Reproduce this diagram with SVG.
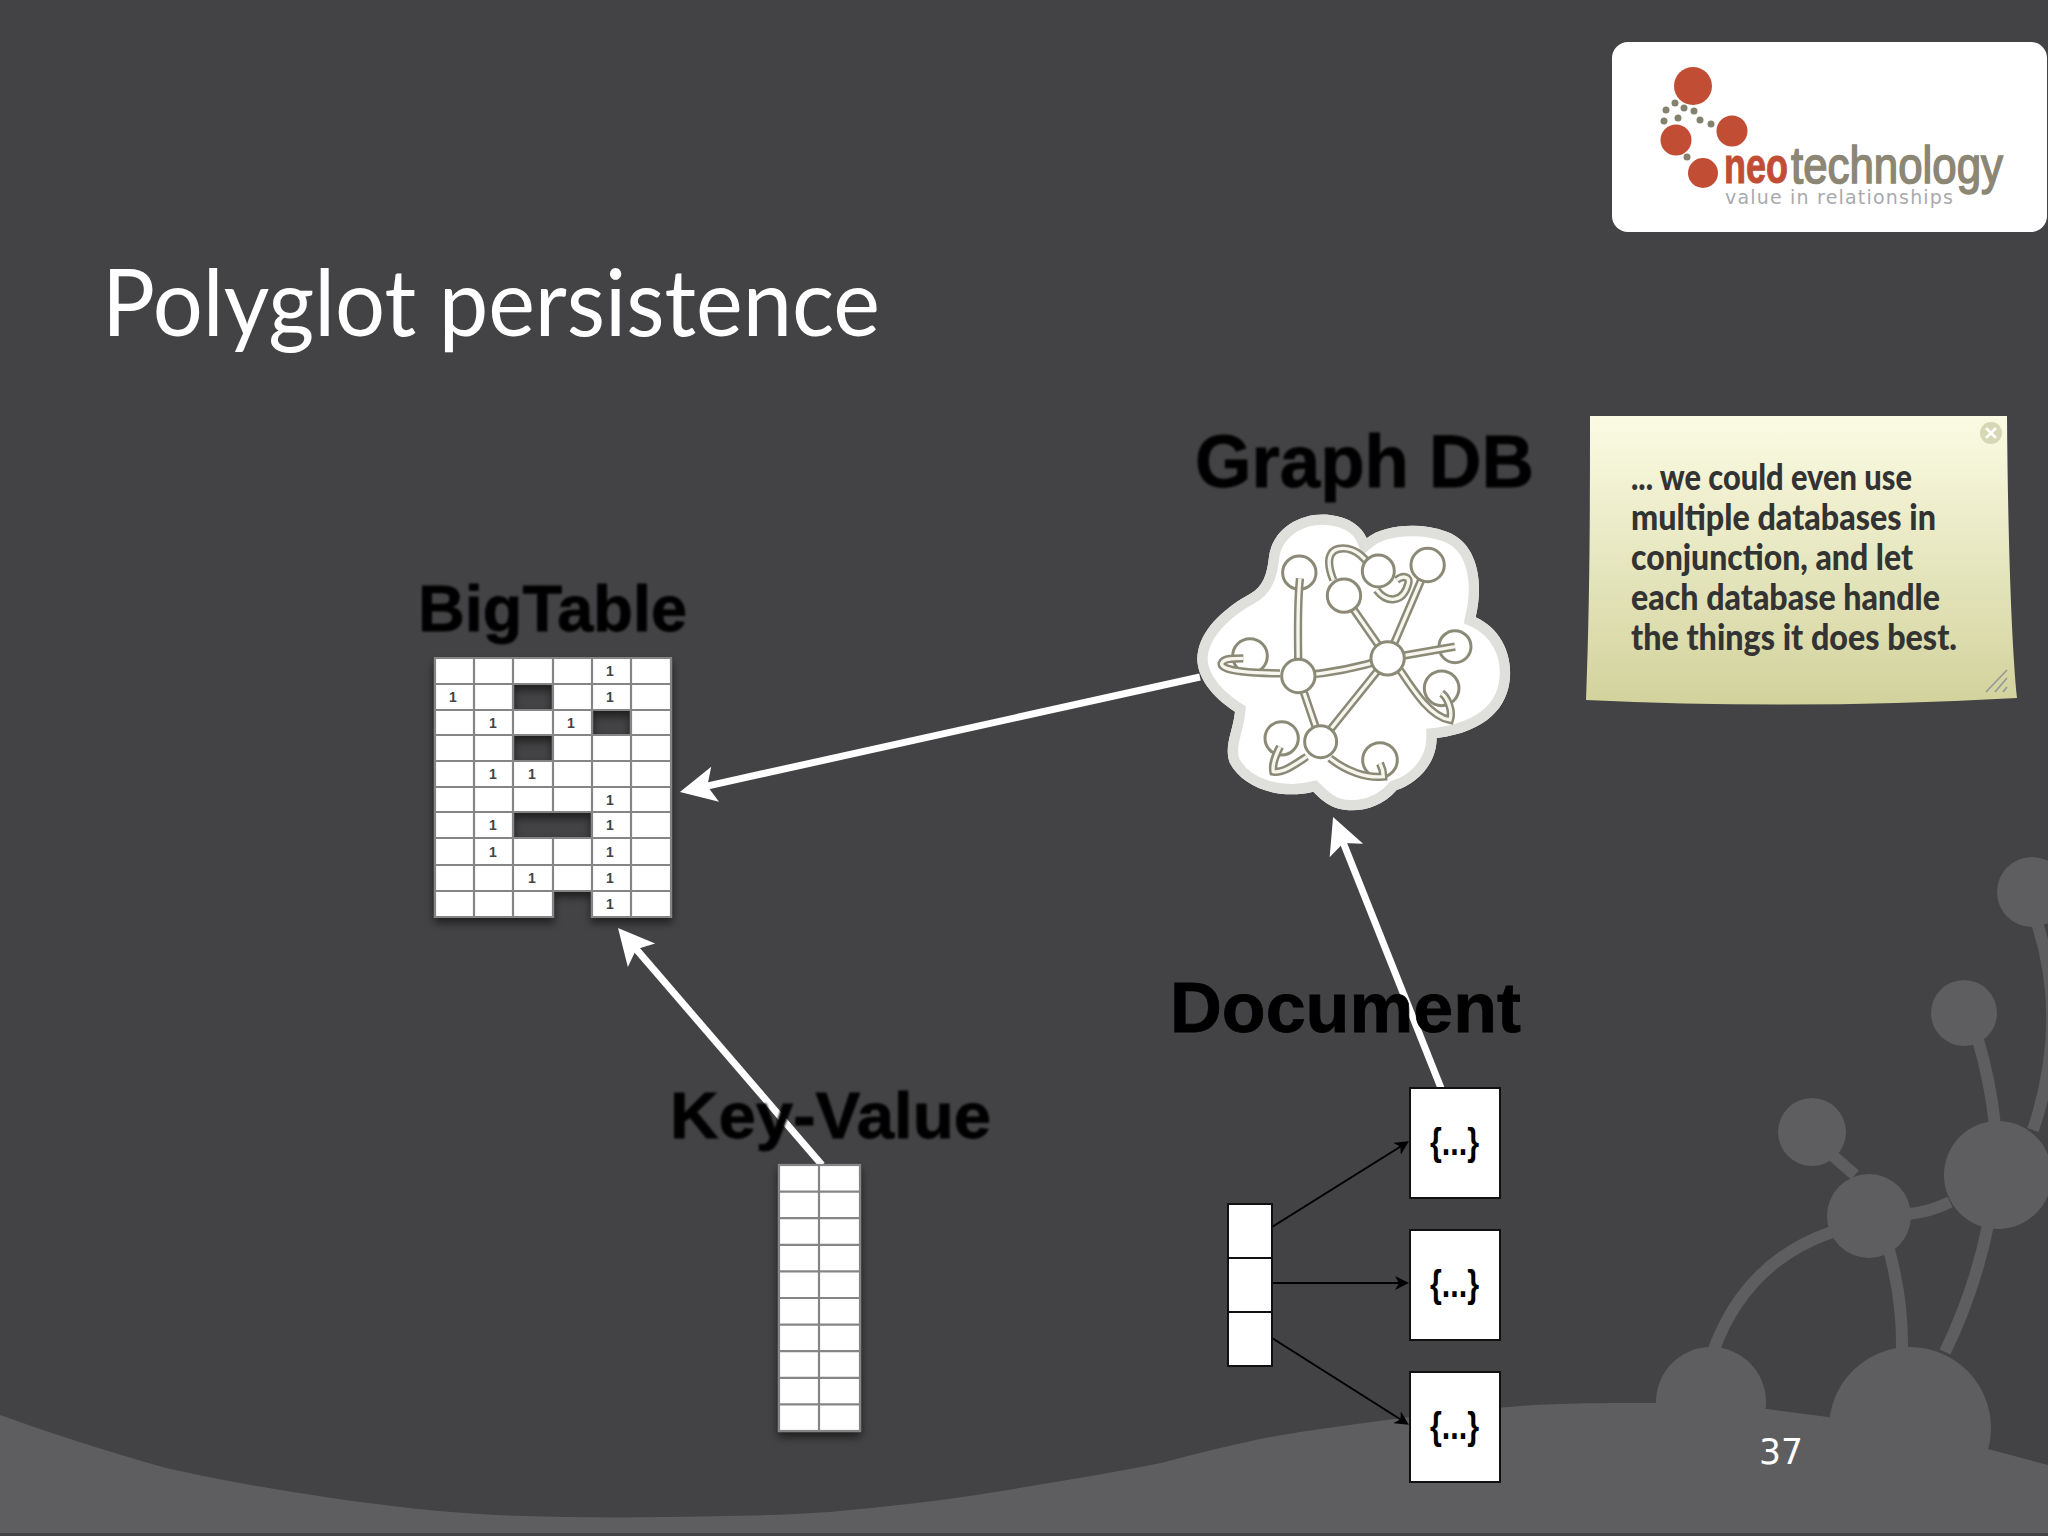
<svg xmlns="http://www.w3.org/2000/svg" width="2048" height="1536" viewBox="0 0 2048 1536">
<style>
.lbl{font-family:"Liberation Sans",Arial,sans-serif;font-weight:700;fill:#000;stroke:#000;stroke-width:.8}
.one{font-family:"Liberation Sans",Arial,sans-serif;font-weight:700;font-size:14px;fill:#444;text-anchor:middle}
.cell{fill:#fff;stroke:#858585;stroke-width:2.2}
.box{fill:#fff;stroke:#111;stroke-width:2}
.brace{font-family:"Liberation Sans",Arial,sans-serif;font-weight:700;font-size:38px;fill:#000}
.wire{fill:none;stroke:#fff;stroke-width:7}
.thin{fill:none;stroke:#000;stroke-width:2}
.deco{fill:#5e5d5f}
.stem{fill:none;stroke:#5e5d5f;stroke-width:12}
.note{font-family:Lato,"Liberation Sans",sans-serif;font-weight:900;font-size:36px;fill:#333}
.ge{fill:none;stroke:#8b8a76;stroke-width:25}
.gi{fill:none;stroke:#f6f6ee;stroke-width:10}
.gn{fill:#fff;stroke:#8b8a76;stroke-width:9}
.dot{fill:#85816f}
.red{fill:#c24d35}
</style>
<defs>
<marker id="wh" markerUnits="userSpaceOnUse" markerWidth="40" markerHeight="40" viewBox="0 0 40 40" refX="23" refY="20" orient="auto">
<path d="M38 20L2 2L10 20L2 38Z" fill="#fff"/>
</marker>
<marker id="bh" markerUnits="userSpaceOnUse" markerWidth="14" markerHeight="14" viewBox="0 0 14 14" refX="7" refY="7" orient="auto">
<path d="M14 7L0 0L4 7L0 14Z" fill="#000"/>
</marker>
<linearGradient id="ng" x1="0" y1="0" x2="0" y2="1"><stop offset="0" stop-color="#fbfbe4"/><stop offset="1" stop-color="#d2d29c"/></linearGradient>
<filter id="sh" x="-15%" y="-15%" width="130%" height="130%"><feGaussianBlur in="SourceGraphic" stdDeviation=".7" result="s"/><feDropShadow in="s" dx="0" dy="5" stdDeviation="4" flood-color="#000" flood-opacity=".55"/></filter>
<filter id="soft" x="-5%" y="-10%" width="110%" height="120%"><feGaussianBlur stdDeviation=".8"/></filter>
<path id="cl" d="M297 440C310 350 400 305 480 315C540 322 575 350 590 385C640 345 750 335 830 365C915 395 945 500 917 622C990 655 1025 730 1020 800C1015 890 950 965 800 984C800 1070 730 1125 680 1140C620 1210 520 1215 470 1180C450 1165 440 1155 430 1145C330 1170 220 1135 180 1060C160 1010 190 960 195 905C110 850 70 780 85 720C100 650 170 590 240 552C280 530 292 490 297 440Z"/>
<clipPath id="clc"><use href="#cl"/></clipPath>
</defs>

<g id="background">
<rect width="2048" height="1536" fill="#434244"/>
<path class="deco" d="M0 1415C55 1435 110 1452 166 1468C220 1480 276 1490 332 1498C386 1506 440 1512 497 1515C550 1517 610 1518 663 1517C720 1516 775 1516 829 1512C885 1507 940 1501 995 1492C1050 1483 1105 1474 1161 1463C1210 1450 1260 1438 1300 1432C1380 1420 1450 1412 1520 1406C1560 1403 1600 1403 1657 1403L1767 1409L1828 1417L1992 1450L2048 1465V1533H0Z"/>
<circle class="deco" cx="1812" cy="1132" r="34"/>
<circle class="deco" cx="1869" cy="1216" r="42"/>
<circle class="deco" cx="1998" cy="1175" r="54"/>
<circle class="deco" cx="1964" cy="1013" r="33"/>
<circle class="deco" cx="2032" cy="892" r="35"/>
<circle class="deco" cx="1711" cy="1402" r="55"/>
<circle class="deco" cx="1910" cy="1428" r="81"/>
<path class="stem" d="M1832 1155L1855 1175M1832 1232Q1745 1262 1713 1352M1889 1250Q1903 1300 1902 1352M1988 1225Q1975 1290 1945 1352M1908 1214Q1930 1212 1950 1202M1978 1040Q1990 1080 1995 1125M2036 920Q2070 1020 2033 1130"/>
</g>

<g id="connectors">
<path class="wire" d="M1200 677L694.6 788.8" marker-end="url(#wh)"/>
<path class="wire" d="M822 1165L627.8 939.4" marker-end="url(#wh)"/>
<path class="wire" d="M1441 1088L1338.6 831" marker-end="url(#wh)"/>
<path class="thin" d="M1272 1227L1403 1145" marker-end="url(#bh)"/>
<path class="thin" d="M1272 1283L1402 1283" marker-end="url(#bh)"/>
<path class="thin" d="M1272 1338L1403 1421" marker-end="url(#bh)"/>
</g>

<text id="title" x="102" y="336" font-family="Lato,'Open Sans',sans-serif" font-size="94" fill="#fff" textLength="778" lengthAdjust="spacingAndGlyphs">Polyglot persistence</text>

<g id="logo">
<rect x="1612" y="42" width="435" height="190" rx="16" fill="#fff"/>
<circle class="red" cx="1693" cy="86" r="19"/>
<circle class="red" cx="1732" cy="131" r="15.5"/>
<circle class="red" cx="1676" cy="140" r="15.5"/>
<circle class="red" cx="1703" cy="173" r="15"/>
<circle class="dot" cx="1675" cy="103" r="3.5"/><circle class="dot" cx="1684" cy="108" r="3.5"/><circle class="dot" cx="1694" cy="111" r="3.5"/><circle class="dot" cx="1666" cy="110" r="3.5"/><circle class="dot" cx="1678" cy="118" r="3.5"/><circle class="dot" cx="1664" cy="121" r="3.5"/><circle class="dot" cx="1700" cy="120" r="3.5"/><circle class="dot" cx="1711" cy="124" r="3.5"/><circle class="dot" cx="1687" cy="157" r="3.5"/>
<text x="1724" y="183" font-family="'Liberation Sans Narrow','Liberation Sans',sans-serif" font-weight="700" font-size="50" fill="#c24d35" stroke="#c24d35" textLength="64" lengthAdjust="spacingAndGlyphs">neo</text>
<text x="1791" y="183" font-family="'Liberation Sans Narrow','Liberation Sans',sans-serif" font-size="52" fill="#8c8674" stroke="#8c8674" stroke-width="1.6" textLength="212" lengthAdjust="spacingAndGlyphs">technology</text>
<text x="1725" y="204" font-family="'DejaVu Sans',sans-serif" font-size="19" fill="#a9a9ae" textLength="228">value in relationships</text>
</g>

<g id="note">
<path d="M1590 416H2007C2008 550 2012 650 2017 698Q1800 710 1586 700C1590 600 1590 500 1590 416Z" fill="url(#ng)"/>
<circle cx="1991" cy="433" r="11" fill="#d5d7b5"/>
<path d="M1986 428L1996 438M1996 428L1986 438" stroke="#fff" stroke-width="2.5"/>
<path d="M1986 692L2007 670M1995 692L2007 678M2003 692L2007 687" stroke="#999" stroke-width="1.8"/>
<text class="note" x="1631" y="490" textLength="281" lengthAdjust="spacingAndGlyphs">... we could even use</text>
<text class="note" x="1631" y="530" textLength="305" lengthAdjust="spacingAndGlyphs">multiple databases in</text>
<text class="note" x="1631" y="570" textLength="282" lengthAdjust="spacingAndGlyphs">conjunction, and let</text>
<text class="note" x="1631" y="610" textLength="309" lengthAdjust="spacingAndGlyphs">each database handle</text>
<text class="note" x="1631" y="650" textLength="326" lengthAdjust="spacingAndGlyphs">the things it does best.</text>
</g>

<g id="graphdb">
<text class="lbl" x="1195" y="487" font-size="74" textLength="339" lengthAdjust="spacingAndGlyphs" filter="url(#soft)">Graph DB</text>
<g transform="translate(1170 410) scale(.3333)">
<use href="#cl" fill="#fff"/>
<use href="#cl" fill="none" stroke="#dfdfdc" stroke-width="62" clip-path="url(#clc)"/>
<circle class="gn" cx="388" cy="488" r="50"/>
<circle class="gn" cx="240" cy="738" r="52"/>
<circle class="gn" cx="855" cy="710" r="48"/>
<circle class="gn" cx="815" cy="835" r="52"/>
<circle class="gn" cx="335" cy="985" r="50"/>
<circle class="gn" cx="630" cy="1050" r="52"/>
<path class="ge" d="M390 505C380 600 385 700 385 798M522 557L653 745M773 465L653 745M385 798C480 790 560 775 653 745M385 798L452 995M452 995L653 745M653 745L855 710M690 780C730 840 780 920 840 930C850 900 830 860 815 850M330 790C260 790 150 785 155 760C160 745 190 745 220 745M410 1040C380 1060 340 1090 310 1085C305 1060 320 1030 330 1010M480 1045C530 1085 590 1105 640 1100C640 1085 635 1070 630 1060M490 510C470 460 470 415 520 415C560 415 590 450 600 470M620 540C650 580 700 580 715 520C720 500 700 495 680 510"/>
<path class="gi" d="M390 505C380 600 385 700 385 798M522 557L653 745M773 465L653 745M385 798C480 790 560 775 653 745M385 798L452 995M452 995L653 745M653 745L855 710M690 780C730 840 780 920 840 930C850 900 830 860 815 850M330 790C260 790 150 785 155 760C160 745 190 745 220 745M410 1040C380 1060 340 1090 310 1085C305 1060 320 1030 330 1010M480 1045C530 1085 590 1105 640 1100C640 1085 635 1070 630 1060M490 510C470 460 470 415 520 415C560 415 590 450 600 470M620 540C650 580 700 580 715 520C720 500 700 495 680 510"/>
<circle class="gn" cx="625" cy="483" r="48"/>
<circle class="gn" cx="522" cy="557" r="50"/>
<circle class="gn" cx="773" cy="465" r="50"/>
<circle class="gn" cx="653" cy="745" r="50"/>
<circle class="gn" cx="385" cy="798" r="50"/>
<circle class="gn" cx="452" cy="995" r="48"/>
</g>
</g>

<g id="bigtable">
<text class="lbl" x="418" y="631" font-size="64" textLength="269" lengthAdjust="spacingAndGlyphs" filter="url(#soft)">BigTable</text>
<g filter="url(#sh)">
<path class="cell" d="M435 658h39v26h-39zM474 658h39v26h-39zM513 658h40v26h-40zM553 658h39v26h-39zM592 658h39v26h-39zM631 658h40v26h-40z
M435 684h39v26h-39zM474 684h39v26h-39zM553 684h39v26h-39zM592 684h39v26h-39zM631 684h40v26h-40z
M435 710h39v25h-39zM474 710h39v25h-39zM513 710h40v25h-40zM553 710h39v25h-39zM631 710h40v25h-40z
M435 735h39v26h-39zM474 735h39v26h-39zM553 735h39v26h-39zM592 735h39v26h-39zM631 735h40v26h-40z
M435 761h39v26h-39zM474 761h39v26h-39zM513 761h40v26h-40zM553 761h39v26h-39zM592 761h39v26h-39zM631 761h40v26h-40z
M435 787h39v25h-39zM474 787h39v25h-39zM513 787h40v25h-40zM553 787h39v25h-39zM592 787h39v25h-39zM631 787h40v25h-40z
M435 812h39v26h-39zM474 812h39v26h-39zM592 812h39v26h-39zM631 812h40v26h-40z
M435 838h39v27h-39zM474 838h39v27h-39zM513 838h40v27h-40zM553 838h39v27h-39zM592 838h39v27h-39zM631 838h40v27h-40z
M435 865h39v26h-39zM474 865h39v26h-39zM513 865h40v26h-40zM553 865h39v26h-39zM592 865h39v26h-39zM631 865h40v26h-40z
M435 891h39v26h-39zM474 891h39v26h-39zM513 891h40v26h-40zM592 891h39v26h-39zM631 891h40v26h-40z"/>
</g>
<text class="one" x="610" y="676">1</text><text class="one" x="453" y="702">1</text><text class="one" x="610" y="702">1</text>
<text class="one" x="493" y="728">1</text><text class="one" x="571" y="728">1</text>
<text class="one" x="493" y="779">1</text><text class="one" x="532" y="779">1</text>
<text class="one" x="610" y="805">1</text>
<text class="one" x="493" y="830">1</text><text class="one" x="610" y="830">1</text>
<text class="one" x="493" y="857">1</text><text class="one" x="610" y="857">1</text>
<text class="one" x="532" y="883">1</text><text class="one" x="610" y="883">1</text>
<text class="one" x="610" y="909">1</text>
</g>

<g id="keyvalue">
<text class="lbl" x="670" y="1138" font-size="65" textLength="321" lengthAdjust="spacingAndGlyphs" filter="url(#soft)">Key-Value</text>
<g filter="url(#sh)">
<rect class="cell" x="779" y="1165" width="81" height="266"/>
<path d="M819 1165V1431M779 1191.6H860M779 1218.2H860M779 1244.8H860M779 1271.4H860M779 1298H860M779 1324.6H860M779 1351.2H860M779 1377.8H860M779 1404.4H860" fill="none" stroke="#858585" stroke-width="2.2"/>
</g>
</g>

<g id="document">
<text class="lbl" x="1170" y="1032" font-size="71" textLength="351" lengthAdjust="spacingAndGlyphs">Document</text>
<rect class="box" x="1228" y="1204" width="44" height="54"/>
<rect class="box" x="1228" y="1258" width="44" height="54"/>
<rect class="box" x="1228" y="1312" width="44" height="54"/>
<rect class="box" x="1410" y="1088" width="90" height="110"/>
<rect class="box" x="1410" y="1230" width="90" height="110"/>
<rect class="box" x="1410" y="1372" width="90" height="110"/>
<text class="brace" x="1430" y="1155" textLength="49" lengthAdjust="spacingAndGlyphs">{...}</text>
<text class="brace" x="1430" y="1297" textLength="49" lengthAdjust="spacingAndGlyphs">{...}</text>
<text class="brace" x="1430" y="1439" textLength="49" lengthAdjust="spacingAndGlyphs">{...}</text>
</g>

<text id="page" x="1759" y="1464" font-family="'DejaVu Sans',sans-serif" font-size="35" fill="#fff" textLength="44" lengthAdjust="spacingAndGlyphs">37</text>
</svg>
